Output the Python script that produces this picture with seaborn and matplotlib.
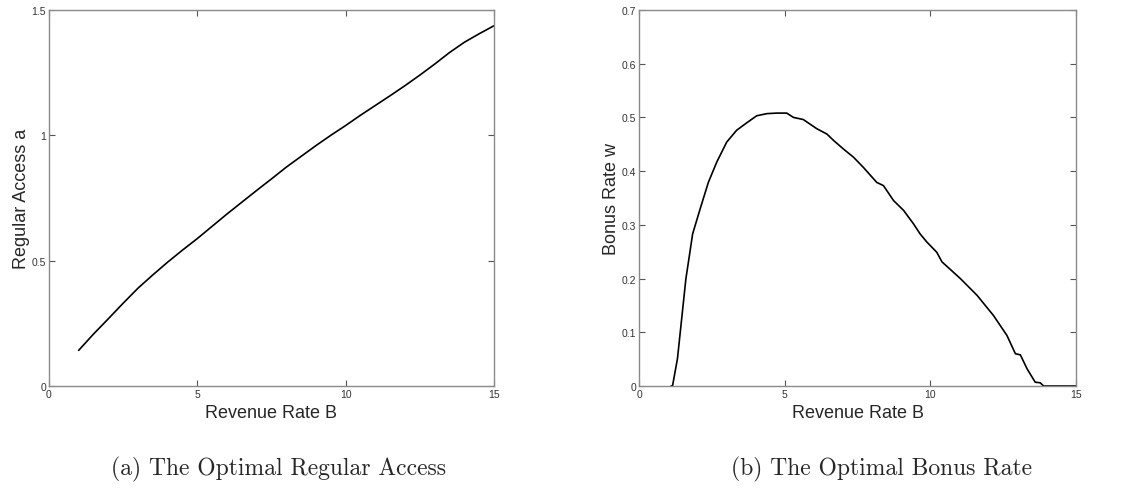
import numpy as np
import pandas as pd
import matplotlib
matplotlib.use("Agg")
import matplotlib.pyplot as plt
import seaborn as sns

# Optimal regular access a as a function of the revenue rate B
revenue_a = [1.0, 1.5, 2.0, 2.5, 3.0, 3.5, 4.0, 4.5, 5.0, 5.5, 6.0, 6.5, 7.0,
             7.5, 8.0, 8.5, 9.0, 9.5, 10.0, 10.5, 11.0, 11.5, 12.0, 12.5,
             13.0, 13.5, 14.0, 14.5, 15.0]
access_a = [0.142, 0.207, 0.268, 0.330, 0.390, 0.443, 0.494, 0.542, 0.588,
            0.637, 0.686, 0.733, 0.780, 0.826, 0.873, 0.916, 0.959, 1.000,
            1.039, 1.080, 1.119, 1.158, 1.198, 1.240, 1.284, 1.330, 1.371,
            1.405, 1.437]

# Optimal bonus rate w as a function of the revenue rate B
revenue_w = [1.1, 1.15, 1.32, 1.61, 1.73, 1.84, 2.1, 2.38, 2.67, 3.01, 3.35,
             3.7, 4.04, 4.39, 4.73, 5.07, 5.3, 5.64, 6.1, 6.45, 6.68, 7.02,
             7.36, 7.7, 8.16, 8.39, 8.74, 9.08, 9.42, 9.65, 9.88, 10.22, 10.4,
             11.03, 11.6, 12.17, 12.63, 12.92, 13.09, 13.32, 13.6, 13.77,
             13.89, 15.0]
bonus_w = [0.0, 0.0, 0.051, 0.2, 0.243, 0.283, 0.33, 0.379, 0.417, 0.454,
           0.476, 0.49, 0.503, 0.507, 0.508, 0.508, 0.5, 0.496, 0.479, 0.469,
           0.457, 0.441, 0.426, 0.407, 0.379, 0.373, 0.345, 0.327, 0.302,
           0.283, 0.268, 0.249, 0.231, 0.2, 0.169, 0.131, 0.094, 0.06, 0.058,
           0.032, 0.007, 0.006, 0.0, 0.0]

x_ticks = [0, 5, 10, 15]
y_ticks_a = [0, 0.5, 1, 1.5]
y_ticks_w = [0, 0.1, 0.2, 0.3, 0.4, 0.5, 0.6, 0.7]
y_ticklabels_w = ["0", "0.1", "0.2", "0.3", "0.4", "0.5", "0.6", "0.7"]

sns.set_theme(style="ticks")
plt.rcParams["font.family"] = ["Liberation Sans", "DejaVu Sans"]

fig = plt.figure(figsize=(11.33, 4.89), dpi=100)
ax_a = fig.add_axes([0.0432, 0.2086, 0.3928, 0.769])
ax_w = fig.add_axes([0.564, 0.2086, 0.3857, 0.769])

df_a = pd.DataFrame({"B": revenue_a, "a": access_a})
df_w = pd.DataFrame({"B": revenue_w, "w": bonus_w})

sns.lineplot(data=df_a, x="B", y="a", ax=ax_a, color="black", linewidth=1.2,
             sort=False)
sns.lineplot(data=df_w, x="B", y="w", ax=ax_w, color="black", linewidth=1.2,
             sort=False, clip_on=False)


def style_axes(ax, yticks, ylim, ylabel, yticklabels=None):
    ax.set_xlim(0, 15)
    ax.set_ylim(*ylim)
    ax.set_xticks(x_ticks)
    ax.set_xticklabels([str(t) for t in x_ticks])
    ax.set_yticks(yticks)
    if yticklabels is None:
        yticklabels = [f"{t:g}" for t in yticks]
    ax.set_yticklabels(yticklabels)
    ax.tick_params(direction="in", length=4, width=0.8, color="#555555",
                   labelsize=7.5, labelcolor="#333333", pad=2,
                   top=True, right=True)
    for side in ax.spines.values():
        side.set_visible(True)
        side.set_color("#8a8a8a")
        side.set_linewidth(1.0)
    ax.set_xlabel("Revenue Rate B", fontsize=13, labelpad=4)
    ax.set_ylabel(ylabel, fontsize=13, labelpad=1)


style_axes(ax_a, y_ticks_a, (0, 1.5), "Regular Access a")
style_axes(ax_w, y_ticks_w, (0, 0.7), "Bonus Rate w", y_ticklabels_w)

fig.text(0.246, 0.039, "(a) The Optimal Regular Access", ha="center",
         va="center", fontsize=17, family="cmr10")
fig.text(0.778, 0.039, "(b) The Optimal Bonus Rate", ha="center",
         va="center", fontsize=17, family="cmr10")

fig.savefig("out.png", dpi=100)
